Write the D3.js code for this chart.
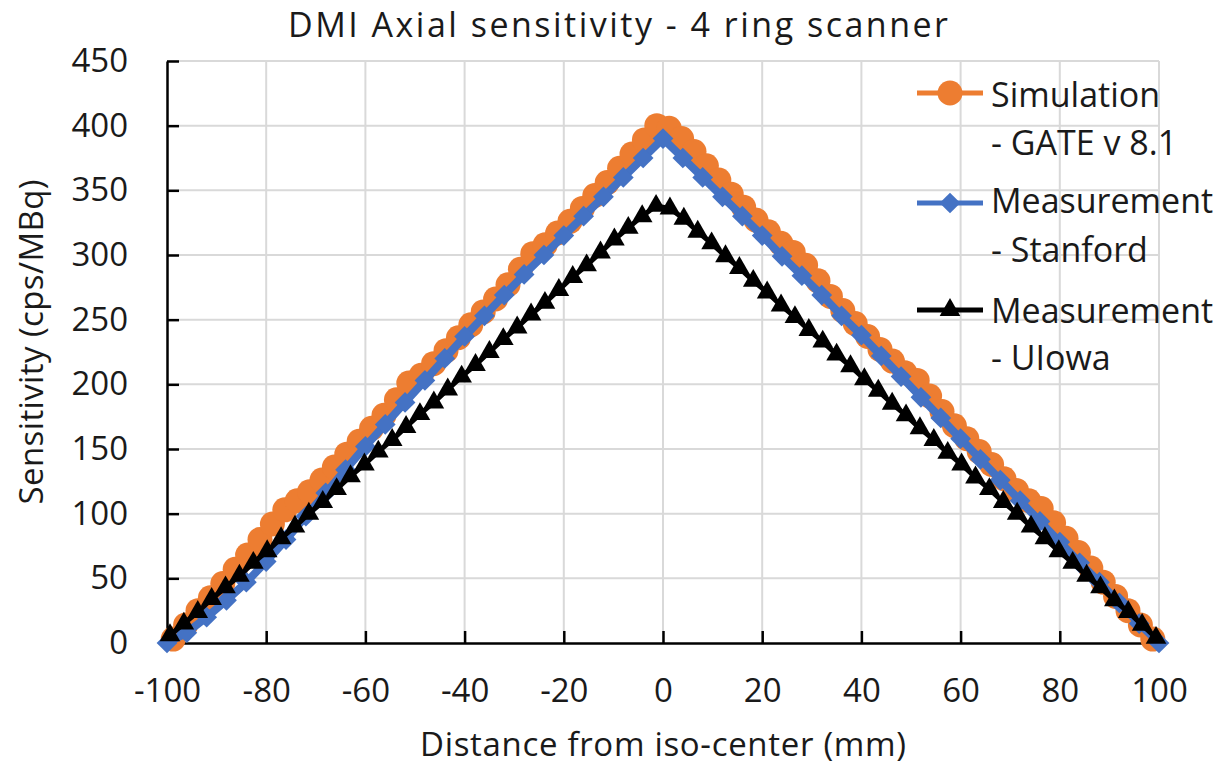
<!DOCTYPE html>
<html>
<head>
<meta charset="utf-8">
<script src="https://cdn.jsdelivr.net/npm/d3@7"></script>
<style>
body { margin: 0; background: #fff; }
text { font-family: "Open Sans", sans-serif; fill: #1a1a1a; }
</style>
</head>
<body>
<script>
var width = 1224,
    height = 766;

// Simulation - GATE v 8.1
var simX = [-98.75, -96.25, -93.75, -91.25, -88.75, -86.25, -83.75, -81.25, -78.75, -76.25,
            -73.75, -71.25, -68.75, -66.25, -63.75, -61.25, -58.75, -56.25, -53.75, -51.25,
            -48.75, -46.25, -43.75, -41.25, -38.75, -36.25, -33.75, -31.25, -28.75, -26.25,
            -23.75, -21.25, -18.75, -16.25, -13.75, -11.25, -8.75, -6.25, -3.75, -1.25,
            1.25, 3.75, 6.25, 8.75, 11.25, 13.75, 16.25, 18.75, 21.25, 23.75,
            26.25, 28.75, 31.25, 33.75, 36.25, 38.75, 41.25, 43.75, 46.25, 48.75,
            51.25, 53.75, 56.25, 58.75, 61.25, 63.75, 66.25, 68.75, 71.25, 73.75,
            76.25, 78.75, 81.25, 83.75, 86.25, 88.75, 91.25, 93.75, 96.25, 98.75];
var simY = [3, 14, 25, 35, 46, 57, 68, 80, 92, 103,
            110, 117, 126, 136, 146, 156, 166, 176, 188, 201,
            207, 216, 226, 236, 246, 256, 266, 277, 289, 301,
            308, 317, 326, 336, 346, 356, 367, 378, 389, 400,
            398, 390, 380, 369, 358, 347, 337, 327, 318, 309,
            302, 292, 280, 268, 257, 247, 237, 227, 218, 209,
            203, 191, 179, 168, 158, 148, 138, 127, 118, 110,
            104, 93, 81, 70, 58, 47, 36, 25, 14, 3];

// Measurement - Stanford
var stanX = [-100, -96, -92, -88, -84, -80, -76, -72, -68, -64, -60, -56, -52, -48, -44, -40, -36,
             -32, -28, -24, -20, -16, -12, -8, -4, 0, 4, 8, 12, 16, 20, 24, 28, 32, 36, 40,
             44, 48, 52, 56, 60, 64, 68, 72, 76, 80, 84, 88, 92, 96, 100];
var stanY = [0, 8, 20, 33, 47, 63, 80, 98, 116, 134, 152, 169, 186, 203, 220, 237, 253,
             269, 285, 300, 315, 330, 345, 360, 375, 390, 375, 360, 345, 330, 315, 299, 284, 269, 253, 238,
             222, 206, 190, 174, 158, 142, 126, 110, 94, 78, 62, 47, 31, 15, 0];

// Measurement - UIowa
var iowaX = [-99.4, -96.6, -93.8, -91.0, -88.2, -85.4, -82.6, -79.8, -77.0, -74.2, -71.4, -68.6,
             -65.8, -63.0, -60.2, -57.4, -54.6, -51.8, -49.0, -46.2, -43.4, -40.6, -37.8, -35.0,
             -32.2, -29.4, -26.6, -23.8, -21.0, -18.2, -15.4, -12.6, -9.8, -7.0, -4.2, -1.4,
             1.4, 4.2, 7.0, 9.8, 12.6, 15.4, 18.2, 21.0, 23.8, 26.6, 29.4, 32.2,
             35.0, 37.8, 40.6, 43.4, 46.2, 49.0, 51.8, 54.6, 57.4, 60.2, 63.0, 65.8,
             68.6, 71.4, 74.2, 77.0, 79.8, 82.6, 85.4, 88.2, 91.0, 93.8, 96.6, 99.4];
var iowaY = [6, 15, 24, 34, 43, 52, 62, 71, 81, 90, 100, 109,
             119, 129, 138, 148, 157, 167, 177, 186, 196, 206, 215, 225,
             235, 244, 254, 263, 273, 283, 292, 302, 312, 321, 330, 338,
             336, 328, 318, 309, 299, 290, 280, 271, 261, 252, 242, 233,
             223, 214, 204, 195, 185, 176, 166, 157, 147, 138, 128, 119,
             109, 100, 90, 81, 71, 62, 52, 43, 33, 24, 14, 4];

var xTicks = [-100, -80, -60, -40, -20, 0, 20, 40, 60, 80, 100];
var yTicks = [0, 50, 100, 150, 200, 250, 300, 350, 400, 450];

var series = [
  { name: ["Simulation", "- GATE v 8.1"], xs: simX, ys: simY, color: "#ED7D31", marker: "circle", lw: 7, ly: 93, tb: [107, 155] },
  { name: ["Measurement", "- Stanford"], xs: stanX, ys: stanY, color: "#4472C4", marker: "diamond", lw: 8, ly: 203, tb: [213, 262] },
  { name: ["Measurement", "- UIowa"], xs: iowaX, ys: iowaY, color: "#000000", marker: "triangle", lw: 5, ly: 310, tb: [323, 370] }
];

var x = d3.scaleLinear().domain([-100, 100]).range([167, 1159]);
var y = d3.scaleLinear().domain([0, 450]).range([643, 61]);

var svg = d3.select("body").append("svg")
    .attr("width", width)
    .attr("height", height);

// gridlines
svg.append("g").selectAll("line")
    .data(yTicks.filter(function(d) { return d > 0; }))
    .enter().append("line")
    .attr("x1", x(-100)).attr("x2", x(100))
    .attr("y1", y).attr("y2", y)
    .attr("stroke", "#d9d9d9").attr("stroke-width", 2);

svg.append("g").selectAll("line")
    .data(xTicks.filter(function(d) { return d > -100; }))
    .enter().append("line")
    .attr("x1", x).attr("x2", x)
    .attr("y1", y(0)).attr("y2", y(450))
    .attr("stroke", "#d9d9d9").attr("stroke-width", 2);

// axes
var fmt = function(d) { return String(d); };
var yAxis = svg.append("g")
    .attr("transform", "translate(" + x(-100) + ",0)")
    .call(d3.axisLeft(y).tickValues(yTicks).tickFormat(fmt)
        .tickSizeInner(-12).tickSizeOuter(0).tickPadding(39));

var xAxis = svg.append("g")
    .attr("transform", "translate(0," + y(0) + ")")
    .call(d3.axisBottom(x).tickValues(xTicks).tickFormat(fmt)
        .tickSizeInner(-12).tickSizeOuter(0).tickPadding(47));

[xAxis, yAxis].forEach(function(a) {
  a.selectAll("path, line").attr("stroke", "#000").attr("stroke-width", 2.5);
  a.selectAll("text")
      .style("font-family", "'Open Sans', sans-serif")
      .style("font-size", "33px")
      .attr("fill", "#1a1a1a");
});
xAxis.selectAll("text").attr("dy", "0.35em");

// series
function drawMarker(sel, s) {
  if (s.marker === "circle") {
    sel.append("circle").attr("r", 12.5).attr("fill", s.color);
  } else if (s.marker === "diamond") {
    sel.append("path")
        .attr("d", d3.symbol().type(d3.symbolSquare).size(215)())
        .attr("transform", "rotate(45)")
        .attr("fill", s.color);
  } else {
    sel.append("path")
        .attr("d", d3.symbol().type(d3.symbolTriangle).size(185)())
        .attr("fill", s.color);
  }
}

var line = d3.line()
    .x(function(d) { return x(d[0]); })
    .y(function(d) { return y(d[1]); });

series.forEach(function(s) {
  var pts = s.xs.map(function(v, i) { return [v, s.ys[i]]; });
  var g = svg.append("g");
  g.append("path")
      .datum(pts)
      .attr("d", line)
      .attr("fill", "none")
      .attr("stroke", s.color)
      .attr("stroke-width", s.lw)
      .attr("stroke-linejoin", "round");
  g.selectAll("g.pt")
      .data(pts)
      .enter().append("g")
      .attr("class", "pt")
      .attr("transform", function(d) { return "translate(" + x(d[0]) + "," + y(d[1]) + ")"; })
      .each(function() { drawMarker(d3.select(this), s); });
});

// legend
series.forEach(function(s) {
  var lg = svg.append("g");
  lg.append("line")
      .attr("x1", 917).attr("x2", 983)
      .attr("y1", s.ly).attr("y2", s.ly)
      .attr("stroke", s.color).attr("stroke-width", 5);
  var m = lg.append("g").attr("transform", "translate(950," + s.ly + ")");
  drawMarker(m, s);
  s.name.forEach(function(t, i) {
    lg.append("text")
        .attr("x", 991)
        .attr("y", s.tb[i])
        .style("font-size", "34px")
        .text(t);
  });
});

// titles
svg.append("text")
    .attr("x", 618).attr("y", 37)
    .attr("text-anchor", "middle")
    .attr("textLength", 660)
    .attr("lengthAdjust", "spacing")
    .style("font-size", "34px")
    .text("DMI Axial sensitivity - 4 ring scanner");

svg.append("text")
    .attr("x", 663).attr("y", 756)
    .attr("text-anchor", "middle")
    .attr("textLength", 486)
    .attr("lengthAdjust", "spacing")
    .style("font-size", "33px")
    .text("Distance from iso-center (mm)");

svg.append("text")
    .attr("transform", "translate(43,342) rotate(-90)")
    .attr("text-anchor", "middle")
    .attr("textLength", 325)
    .attr("lengthAdjust", "spacing")
    .style("font-size", "33px")
    .text("Sensitivity (cps/MBq)");
</script>
</body>
</html>
